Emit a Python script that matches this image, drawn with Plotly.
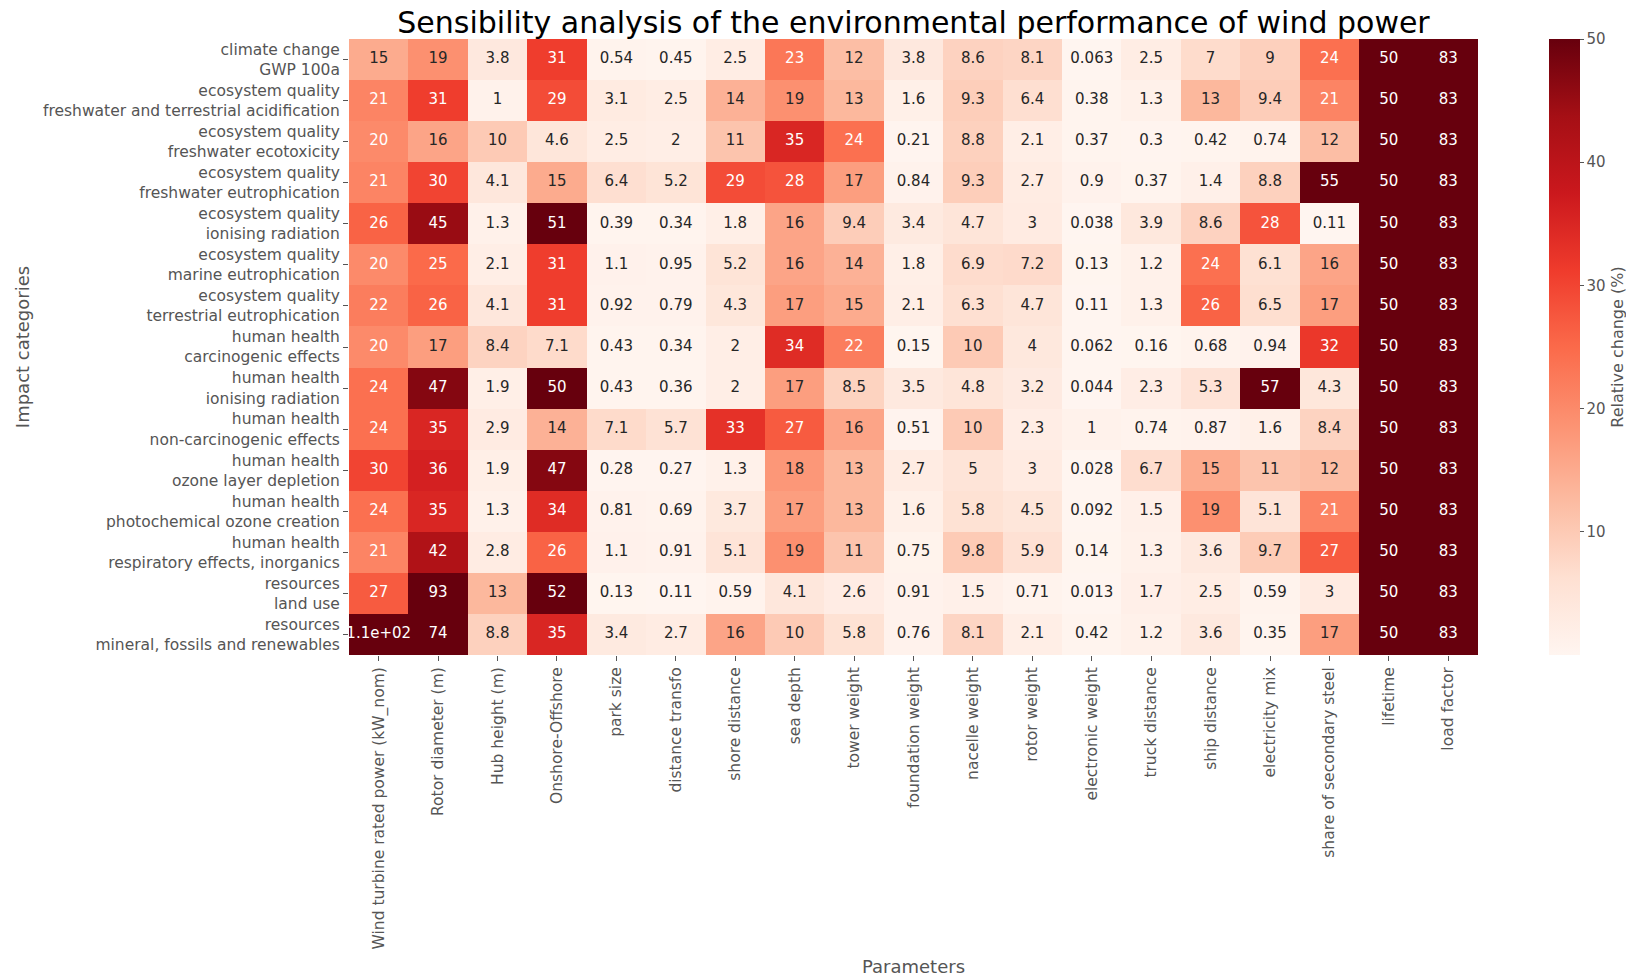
import plotly.graph_objects as go

# Parameters (x) and impact categories (y)
parametry = [
    "Wind turbine rated power (kW_nom)", "Rotor diameter (m)", "Hub height (m)",
    "Onshore-Offshore", "park size", "distance transfo", "shore distance",
    "sea depth", "tower weight", "foundation weight", "nacelle weight",
    "rotor weight", "electronic weight", "truck distance", "ship distance",
    "electricity mix", "share of secondary steel", "lifetime", "load factor",
]

kategorie = [
    "climate change<br>GWP 100a",
    "ecosystem quality<br>freshwater and terrestrial acidification",
    "ecosystem quality<br>freshwater ecotoxicity",
    "ecosystem quality<br>freshwater eutrophication",
    "ecosystem quality<br>ionising radiation",
    "ecosystem quality<br>marine eutrophication",
    "ecosystem quality<br>terrestrial eutrophication",
    "human health<br>carcinogenic effects",
    "human health<br>ionising radiation",
    "human health<br>non-carcinogenic effects",
    "human health<br>ozone layer depletion",
    "human health<br>photochemical ozone creation",
    "human health<br>respiratory effects, inorganics",
    "resources<br>land use",
    "resources<br>mineral, fossils and renewables",
]

# relative change (%) per category, one list per row
climate_change = [15, 19, 3.8, 31, 0.54, 0.45, 2.5, 23, 12, 3.8, 8.6, 8.1, 0.063, 2.5, 7, 9, 24, 50, 83]
eq_acidification = [21, 31, 1, 29, 3.1, 2.5, 14, 19, 13, 1.6, 9.3, 6.4, 0.38, 1.3, 13, 9.4, 21, 50, 83]
eq_ecotoxicity = [20, 16, 10, 4.6, 2.5, 2, 11, 35, 24, 0.21, 8.8, 2.1, 0.37, 0.3, 0.42, 0.74, 12, 50, 83]
eq_fw_eutrophication = [21, 30, 4.1, 15, 6.4, 5.2, 29, 28, 17, 0.84, 9.3, 2.7, 0.9, 0.37, 1.4, 8.8, 55, 50, 83]
eq_ionising = [26, 45, 1.3, 51, 0.39, 0.34, 1.8, 16, 9.4, 3.4, 4.7, 3, 0.038, 3.9, 8.6, 28, 0.11, 50, 83]
eq_marine_eutrophication = [20, 25, 2.1, 31, 1.1, 0.95, 5.2, 16, 14, 1.8, 6.9, 7.2, 0.13, 1.2, 24, 6.1, 16, 50, 83]
eq_terr_eutrophication = [22, 26, 4.1, 31, 0.92, 0.79, 4.3, 17, 15, 2.1, 6.3, 4.7, 0.11, 1.3, 26, 6.5, 17, 50, 83]
hh_carcinogenic = [20, 17, 8.4, 7.1, 0.43, 0.34, 2, 34, 22, 0.15, 10, 4, 0.062, 0.16, 0.68, 0.94, 32, 50, 83]
hh_ionising = [24, 47, 1.9, 50, 0.43, 0.36, 2, 17, 8.5, 3.5, 4.8, 3.2, 0.044, 2.3, 5.3, 57, 4.3, 50, 83]
hh_non_carcinogenic = [24, 35, 2.9, 14, 7.1, 5.7, 33, 27, 16, 0.51, 10, 2.3, 1, 0.74, 0.87, 1.6, 8.4, 50, 83]
hh_ozone_depletion = [30, 36, 1.9, 47, 0.28, 0.27, 1.3, 18, 13, 2.7, 5, 3, 0.028, 6.7, 15, 11, 12, 50, 83]
hh_photochemical = [24, 35, 1.3, 34, 0.81, 0.69, 3.7, 17, 13, 1.6, 5.8, 4.5, 0.092, 1.5, 19, 5.1, 21, 50, 83]
hh_respiratory = [21, 42, 2.8, 26, 1.1, 0.91, 5.1, 19, 11, 0.75, 9.8, 5.9, 0.14, 1.3, 3.6, 9.7, 27, 50, 83]
res_land_use = [27, 93, 13, 52, 0.13, 0.11, 0.59, 4.1, 2.6, 0.91, 1.5, 0.71, 0.013, 1.7, 2.5, 0.59, 3, 50, 83]
res_mineral = [110, 74, 8.8, 35, 3.4, 2.7, 16, 10, 5.8, 0.76, 8.1, 2.1, 0.42, 1.2, 3.6, 0.35, 17, 50, 83]

macierz = [
    climate_change, eq_acidification, eq_ecotoxicity, eq_fw_eutrophication,
    eq_ionising, eq_marine_eutrophication, eq_terr_eutrophication,
    hh_carcinogenic, hh_ionising, hh_non_carcinogenic, hh_ozone_depletion,
    hh_photochemical, hh_respiratory, res_land_use, res_mineral,
]

# matplotlib "Reds"
reds = ["#fff5f0", "#fee0d2", "#fcbba1", "#fc9272", "#fb6a4a",
        "#ef3b2c", "#cb181d", "#a50f15", "#67000d"]
skala = [[i / (len(reds) - 1), c] for i, c in enumerate(reds)]

FONT = "DejaVu Sans"
SZARY = "#555555"

zmin = min(min(r) for r in macierz)
zmax = 50

fig = go.Figure()
fig.add_trace(go.Heatmap(
    z=macierz, x=parametry, y=kategorie,
    colorscale=skala, zmin=zmin, zmax=zmax,
    colorbar=dict(
        x=1.063, xanchor="left", xpad=0, y=0.5, yanchor="middle", len=1.0,
        ypad=0, thickness=31, outlinewidth=0,
        tickvals=[10, 20, 30, 40, 50], ticks="outside", ticklen=4,
        tickcolor=SZARY, tickfont=dict(family=FONT, size=15, color=SZARY),
        title=dict(text="Relative change (%)", side="right",
                   font=dict(family=FONT, size=16, color=SZARY)),
    ),
    hoverinfo="skip",
))

# cell annotations (seaborn-like .2g format, white text on dark cells)
xs, ys, teksty, kolory = [], [], [], []
for kat, wiersz in zip(kategorie, macierz):
    for par, v in zip(parametry, wiersz):
        xs.append(par)
        ys.append(kat)
        teksty.append(format(v, ".2g"))
        kolory.append("white" if v >= 19.5 else "#262626")

fig.add_trace(go.Scatter(
    x=xs, y=ys, mode="text", text=teksty,
    textfont=dict(family=FONT, size=15, color=kolory),
    hoverinfo="skip", showlegend=False,
))

# page body has an 8px margin, so the figure is 8px smaller than the window
fig.update_layout(
    width=1626, height=969,
    margin=dict(l=341, r=156, t=31, b=322, autoexpand=False),
    paper_bgcolor="white", plot_bgcolor="white",
    font=dict(family=FONT, color=SZARY),
    title=dict(
        text="Sensibility analysis of the environmental performance of wind power",
        x=0.5, xref="paper", xanchor="center",
        y=1 - 14 / 969, yref="container", yanchor="middle",
        font=dict(family=FONT, size=30, color="black"),
    ),
    xaxis=dict(
        range=[-0.5, len(parametry) - 0.5],
        tickangle=-90, ticks="outside", ticklen=5, tickcolor=SZARY,
        tickfont=dict(family=FONT, size=15.5, color=SZARY),
        showgrid=False, zeroline=False, automargin=False,
        title=dict(text="Parameters", standoff=12,
                   font=dict(family=FONT, size=18, color=SZARY)),
    ),
    yaxis=dict(
        range=[len(kategorie) - 0.5, -0.5],
        ticks="outside", ticklen=5, tickcolor=SZARY,
        tickfont=dict(family=FONT, size=15.5, color=SZARY),
        showgrid=False, zeroline=False, automargin=False,
        title=dict(text="Impact categories", standoff=8,
                   font=dict(family=FONT, size=18, color=SZARY)),
    ),
)

fig.write_html("out.html")
